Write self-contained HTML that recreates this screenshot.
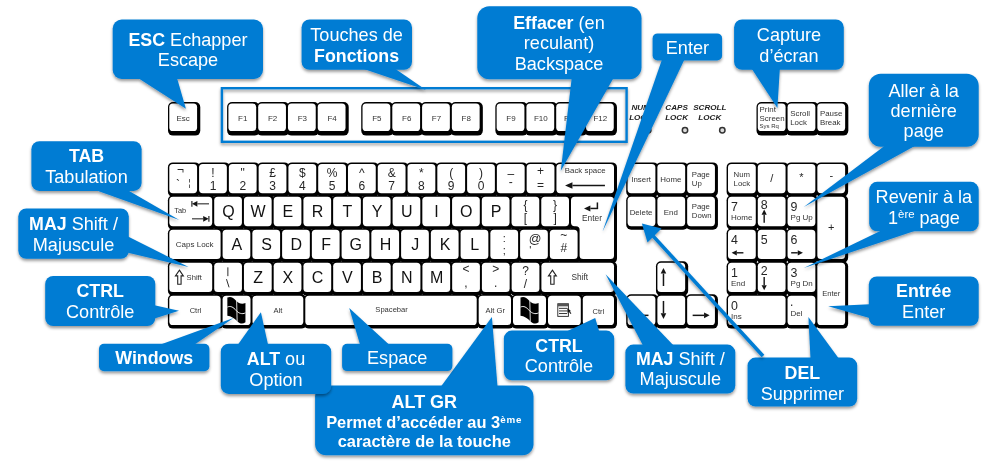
<!DOCTYPE html>
<html lang="fr"><head><meta charset="utf-8"><title>Clavier</title>
<style>html,body{margin:0;padding:0;background:#fff}body{width:986px;height:465px;overflow:hidden}svg{display:block}</style>
</head><body>
<svg width="986" height="465" viewBox="0 0 986 465" font-family="'Liberation Sans', sans-serif">
<defs><filter id="sh" x="-20%" y="-20%" width="140%" height="150%"><feDropShadow dx="0" dy="2.1" stdDeviation="1.8" flood-color="#000" flood-opacity="0.40"/></filter></defs>
<rect width="986" height="465" fill="#fff"/>
<g><rect x="168.00" y="102.10" width="32.28" height="33.50" rx="5" fill="#000" /><rect x="227.10" y="102.10" width="32.28" height="33.50" rx="5" fill="#000" /><rect x="256.88" y="102.10" width="32.28" height="33.50" rx="5" fill="#000" /><rect x="286.66" y="102.10" width="32.28" height="33.50" rx="5" fill="#000" /><rect x="316.44" y="102.10" width="32.28" height="33.50" rx="5" fill="#000" /><rect x="361.22" y="102.10" width="32.28" height="33.50" rx="5" fill="#000" /><rect x="391.00" y="102.10" width="32.28" height="33.50" rx="5" fill="#000" /><rect x="420.78" y="102.10" width="32.28" height="33.50" rx="5" fill="#000" /><rect x="450.56" y="102.10" width="32.28" height="33.50" rx="5" fill="#000" /><rect x="495.34" y="102.10" width="32.28" height="33.50" rx="5" fill="#000" /><rect x="525.12" y="102.10" width="32.28" height="33.50" rx="5" fill="#000" /><rect x="554.90" y="102.10" width="32.28" height="33.50" rx="5" fill="#000" /><rect x="584.68" y="102.10" width="32.28" height="33.50" rx="5" fill="#000" /><rect x="756.50" y="102.10" width="32.28" height="33.50" rx="5" fill="#000" /><rect x="786.28" y="102.10" width="32.28" height="33.50" rx="5" fill="#000" /><rect x="816.06" y="102.10" width="32.28" height="33.50" rx="5" fill="#000" /><rect x="167.90" y="162.40" width="32.18" height="34.40" rx="5" fill="#000" /><rect x="197.68" y="162.40" width="32.18" height="34.40" rx="5" fill="#000" /><rect x="227.46" y="162.40" width="32.18" height="34.40" rx="5" fill="#000" /><rect x="257.24" y="162.40" width="32.18" height="34.40" rx="5" fill="#000" /><rect x="287.02" y="162.40" width="32.18" height="34.40" rx="5" fill="#000" /><rect x="316.80" y="162.40" width="32.18" height="34.40" rx="5" fill="#000" /><rect x="346.58" y="162.40" width="32.18" height="34.40" rx="5" fill="#000" /><rect x="376.36" y="162.40" width="32.18" height="34.40" rx="5" fill="#000" /><rect x="406.14" y="162.40" width="32.18" height="34.40" rx="5" fill="#000" /><rect x="435.92" y="162.40" width="32.18" height="34.40" rx="5" fill="#000" /><rect x="465.70" y="162.40" width="32.18" height="34.40" rx="5" fill="#000" /><rect x="495.48" y="162.40" width="32.18" height="34.40" rx="5" fill="#000" /><rect x="525.26" y="162.40" width="32.18" height="34.40" rx="5" fill="#000" /><rect x="555.04" y="162.40" width="61.96" height="34.40" rx="5" fill="#000" /><rect x="167.90" y="195.35" width="47.30" height="34.40" rx="5" fill="#000" /><rect x="212.80" y="195.35" width="32.13" height="34.40" rx="5" fill="#000" /><rect x="242.53" y="195.35" width="32.13" height="34.40" rx="5" fill="#000" /><rect x="272.27" y="195.35" width="32.13" height="34.40" rx="5" fill="#000" /><rect x="302.00" y="195.35" width="32.13" height="34.40" rx="5" fill="#000" /><rect x="331.73" y="195.35" width="32.13" height="34.40" rx="5" fill="#000" /><rect x="361.47" y="195.35" width="32.13" height="34.40" rx="5" fill="#000" /><rect x="391.20" y="195.35" width="32.13" height="34.40" rx="5" fill="#000" /><rect x="420.93" y="195.35" width="32.13" height="34.40" rx="5" fill="#000" /><rect x="450.67" y="195.35" width="32.13" height="34.40" rx="5" fill="#000" /><rect x="480.40" y="195.35" width="32.13" height="34.40" rx="5" fill="#000" /><rect x="510.13" y="195.35" width="32.13" height="34.40" rx="5" fill="#000" /><rect x="539.87" y="195.35" width="32.13" height="34.40" rx="5" fill="#000" /><path d="M574.10,195.35 H612.50 Q617.00,195.35 617.00,199.85 V258.20 Q617.00,262.70 612.50,262.70 H582.70 Q578.20,262.70 578.20,258.20 V234.25 Q578.20,229.75 573.70,229.75 H574.10 Q569.60,229.75 569.60,225.25 V199.85 Q569.60,195.35 574.10,195.35 Z" fill="#000"/><rect x="167.90" y="228.30" width="55.70" height="34.40" rx="5" fill="#000" /><rect x="221.20" y="228.30" width="32.15" height="34.40" rx="5" fill="#000" /><rect x="250.95" y="228.30" width="32.15" height="34.40" rx="5" fill="#000" /><rect x="280.70" y="228.30" width="32.15" height="34.40" rx="5" fill="#000" /><rect x="310.45" y="228.30" width="32.15" height="34.40" rx="5" fill="#000" /><rect x="340.20" y="228.30" width="32.15" height="34.40" rx="5" fill="#000" /><rect x="369.95" y="228.30" width="32.15" height="34.40" rx="5" fill="#000" /><rect x="399.70" y="228.30" width="32.15" height="34.40" rx="5" fill="#000" /><rect x="429.45" y="228.30" width="32.15" height="34.40" rx="5" fill="#000" /><rect x="459.20" y="228.30" width="32.15" height="34.40" rx="5" fill="#000" /><rect x="488.95" y="228.30" width="32.15" height="34.40" rx="5" fill="#000" /><rect x="518.70" y="228.30" width="32.15" height="34.40" rx="5" fill="#000" /><rect x="548.45" y="228.30" width="32.15" height="34.40" rx="5" fill="#000" /><rect x="167.90" y="261.25" width="47.30" height="34.40" rx="5" fill="#000" /><rect x="212.80" y="261.25" width="32.15" height="34.40" rx="5" fill="#000" /><rect x="242.55" y="261.25" width="32.15" height="34.40" rx="5" fill="#000" /><rect x="272.29" y="261.25" width="32.15" height="34.40" rx="5" fill="#000" /><rect x="302.04" y="261.25" width="32.15" height="34.40" rx="5" fill="#000" /><rect x="331.78" y="261.25" width="32.15" height="34.40" rx="5" fill="#000" /><rect x="361.53" y="261.25" width="32.15" height="34.40" rx="5" fill="#000" /><rect x="391.27" y="261.25" width="32.15" height="34.40" rx="5" fill="#000" /><rect x="421.02" y="261.25" width="32.15" height="34.40" rx="5" fill="#000" /><rect x="450.76" y="261.25" width="32.15" height="34.40" rx="5" fill="#000" /><rect x="480.51" y="261.25" width="32.15" height="34.40" rx="5" fill="#000" /><rect x="510.25" y="261.25" width="32.15" height="34.40" rx="5" fill="#000" /><rect x="540.00" y="261.25" width="77.00" height="34.40" rx="5" fill="#000" /><rect x="167.90" y="294.20" width="55.70" height="34.40" rx="5" fill="#000" /><rect x="221.20" y="294.20" width="32.30" height="34.40" rx="5" fill="#000" /><rect x="251.10" y="294.20" width="55.20" height="34.40" rx="5" fill="#000" /><rect x="303.90" y="294.20" width="175.80" height="34.40" rx="5" fill="#000" /><rect x="477.30" y="294.20" width="36.70" height="34.40" rx="5" fill="#000" /><rect x="511.60" y="294.20" width="37.40" height="34.40" rx="5" fill="#000" /><rect x="546.60" y="294.20" width="37.20" height="34.40" rx="5" fill="#000" /><rect x="581.40" y="294.20" width="35.60" height="34.40" rx="5" fill="#000" /><rect x="626.20" y="162.40" width="32.18" height="34.40" rx="5" fill="#000" /><rect x="655.98" y="162.40" width="32.18" height="34.40" rx="5" fill="#000" /><rect x="685.76" y="162.40" width="32.18" height="34.40" rx="5" fill="#000" /><rect x="626.20" y="195.35" width="32.18" height="34.40" rx="5" fill="#000" /><rect x="655.98" y="195.35" width="32.18" height="34.40" rx="5" fill="#000" /><rect x="685.76" y="195.35" width="32.18" height="34.40" rx="5" fill="#000" /><rect x="655.98" y="261.25" width="32.18" height="34.40" rx="5" fill="#000" /><rect x="626.20" y="294.20" width="32.18" height="34.40" rx="5" fill="#000" /><rect x="655.98" y="294.20" width="32.18" height="34.40" rx="5" fill="#000" /><rect x="685.76" y="294.20" width="32.18" height="34.40" rx="5" fill="#000" /><rect x="726.60" y="162.40" width="32.18" height="34.40" rx="5" fill="#000" /><rect x="756.38" y="162.40" width="32.18" height="34.40" rx="5" fill="#000" /><rect x="786.16" y="162.40" width="32.18" height="34.40" rx="5" fill="#000" /><rect x="815.94" y="162.40" width="32.18" height="34.40" rx="5" fill="#000" /><rect x="726.60" y="195.35" width="32.18" height="34.40" rx="5" fill="#000" /><rect x="756.38" y="195.35" width="32.18" height="34.40" rx="5" fill="#000" /><rect x="786.16" y="195.35" width="32.18" height="34.40" rx="5" fill="#000" /><rect x="815.94" y="195.35" width="32.18" height="67.35" rx="5" fill="#000" /><rect x="726.60" y="228.30" width="32.18" height="34.40" rx="5" fill="#000" /><rect x="756.38" y="228.30" width="32.18" height="34.40" rx="5" fill="#000" /><rect x="786.16" y="228.30" width="32.18" height="34.40" rx="5" fill="#000" /><rect x="726.60" y="261.25" width="32.18" height="34.40" rx="5" fill="#000" /><rect x="756.38" y="261.25" width="32.18" height="34.40" rx="5" fill="#000" /><rect x="786.16" y="261.25" width="32.18" height="34.40" rx="5" fill="#000" /><rect x="815.94" y="261.25" width="32.18" height="67.35" rx="5" fill="#000" /><rect x="726.60" y="294.20" width="61.96" height="34.40" rx="5" fill="#000" /><rect x="786.16" y="294.20" width="32.18" height="34.40" rx="5" fill="#000" /></g>
<g><rect x="169.30" y="103.60" width="27.78" height="27.40" rx="3.6" fill="#fff" /><rect x="228.40" y="103.60" width="27.78" height="27.40" rx="3.6" fill="#fff" /><rect x="258.18" y="103.60" width="27.78" height="27.40" rx="3.6" fill="#fff" /><rect x="287.96" y="103.60" width="27.78" height="27.40" rx="3.6" fill="#fff" /><rect x="317.74" y="103.60" width="27.78" height="27.40" rx="3.6" fill="#fff" /><rect x="362.52" y="103.60" width="27.78" height="27.40" rx="3.6" fill="#fff" /><rect x="392.30" y="103.60" width="27.78" height="27.40" rx="3.6" fill="#fff" /><rect x="422.08" y="103.60" width="27.78" height="27.40" rx="3.6" fill="#fff" /><rect x="451.86" y="103.60" width="27.78" height="27.40" rx="3.6" fill="#fff" /><rect x="496.64" y="103.60" width="27.78" height="27.40" rx="3.6" fill="#fff" /><rect x="526.42" y="103.60" width="27.78" height="27.40" rx="3.6" fill="#fff" /><rect x="556.20" y="103.60" width="27.78" height="27.40" rx="3.6" fill="#fff" /><rect x="585.98" y="103.60" width="27.78" height="27.40" rx="3.6" fill="#fff" /><rect x="757.80" y="103.60" width="27.78" height="27.40" rx="3.6" fill="#fff" /><rect x="787.58" y="103.60" width="27.78" height="27.40" rx="3.6" fill="#fff" /><rect x="817.36" y="103.60" width="27.78" height="27.40" rx="3.6" fill="#fff" /><rect x="169.30" y="163.90" width="27.78" height="29.30" rx="3.6" fill="#fff" /><rect x="199.08" y="163.90" width="27.78" height="29.30" rx="3.6" fill="#fff" /><rect x="228.86" y="163.90" width="27.78" height="29.30" rx="3.6" fill="#fff" /><rect x="258.64" y="163.90" width="27.78" height="29.30" rx="3.6" fill="#fff" /><rect x="288.42" y="163.90" width="27.78" height="29.30" rx="3.6" fill="#fff" /><rect x="318.20" y="163.90" width="27.78" height="29.30" rx="3.6" fill="#fff" /><rect x="347.98" y="163.90" width="27.78" height="29.30" rx="3.6" fill="#fff" /><rect x="377.76" y="163.90" width="27.78" height="29.30" rx="3.6" fill="#fff" /><rect x="407.54" y="163.90" width="27.78" height="29.30" rx="3.6" fill="#fff" /><rect x="437.32" y="163.90" width="27.78" height="29.30" rx="3.6" fill="#fff" /><rect x="467.10" y="163.90" width="27.78" height="29.30" rx="3.6" fill="#fff" /><rect x="496.88" y="163.90" width="27.78" height="29.30" rx="3.6" fill="#fff" /><rect x="526.66" y="163.90" width="27.78" height="29.30" rx="3.6" fill="#fff" /><rect x="556.44" y="163.90" width="57.56" height="29.30" rx="3.6" fill="#fff" /><rect x="169.30" y="196.85" width="42.90" height="29.30" rx="3.6" fill="#fff" /><rect x="214.20" y="196.85" width="27.73" height="29.30" rx="3.6" fill="#fff" /><rect x="243.93" y="196.85" width="27.73" height="29.30" rx="3.6" fill="#fff" /><rect x="273.67" y="196.85" width="27.73" height="29.30" rx="3.6" fill="#fff" /><rect x="303.40" y="196.85" width="27.73" height="29.30" rx="3.6" fill="#fff" /><rect x="333.13" y="196.85" width="27.73" height="29.30" rx="3.6" fill="#fff" /><rect x="362.87" y="196.85" width="27.73" height="29.30" rx="3.6" fill="#fff" /><rect x="392.60" y="196.85" width="27.73" height="29.30" rx="3.6" fill="#fff" /><rect x="422.33" y="196.85" width="27.73" height="29.30" rx="3.6" fill="#fff" /><rect x="452.07" y="196.85" width="27.73" height="29.30" rx="3.6" fill="#fff" /><rect x="481.80" y="196.85" width="27.73" height="29.30" rx="3.6" fill="#fff" /><rect x="511.53" y="196.85" width="27.73" height="29.30" rx="3.6" fill="#fff" /><rect x="541.27" y="196.85" width="27.73" height="29.30" rx="3.6" fill="#fff" /><path d="M574.60,196.85 H610.40 Q614.00,196.85 614.00,200.45 V255.50 Q614.00,259.10 610.40,259.10 H583.20 Q579.60,259.10 579.60,255.50 V229.75 Q579.60,226.15 576.00,226.15 H574.60 Q571.00,226.15 571.00,222.55 V200.45 Q571.00,196.85 574.60,196.85 Z" fill="#fff"/><rect x="169.30" y="229.80" width="51.30" height="29.30" rx="3.6" fill="#fff" /><rect x="222.60" y="229.80" width="27.75" height="29.30" rx="3.6" fill="#fff" /><rect x="252.35" y="229.80" width="27.75" height="29.30" rx="3.6" fill="#fff" /><rect x="282.10" y="229.80" width="27.75" height="29.30" rx="3.6" fill="#fff" /><rect x="311.85" y="229.80" width="27.75" height="29.30" rx="3.6" fill="#fff" /><rect x="341.60" y="229.80" width="27.75" height="29.30" rx="3.6" fill="#fff" /><rect x="371.35" y="229.80" width="27.75" height="29.30" rx="3.6" fill="#fff" /><rect x="401.10" y="229.80" width="27.75" height="29.30" rx="3.6" fill="#fff" /><rect x="430.85" y="229.80" width="27.75" height="29.30" rx="3.6" fill="#fff" /><rect x="460.60" y="229.80" width="27.75" height="29.30" rx="3.6" fill="#fff" /><rect x="490.35" y="229.80" width="27.75" height="29.30" rx="3.6" fill="#fff" /><rect x="520.10" y="229.80" width="27.75" height="29.30" rx="3.6" fill="#fff" /><rect x="549.85" y="229.80" width="27.75" height="29.30" rx="3.6" fill="#fff" /><rect x="169.30" y="262.75" width="42.90" height="29.30" rx="3.6" fill="#fff" /><rect x="214.20" y="262.75" width="27.75" height="29.30" rx="3.6" fill="#fff" /><rect x="243.95" y="262.75" width="27.75" height="29.30" rx="3.6" fill="#fff" /><rect x="273.69" y="262.75" width="27.75" height="29.30" rx="3.6" fill="#fff" /><rect x="303.44" y="262.75" width="27.75" height="29.30" rx="3.6" fill="#fff" /><rect x="333.18" y="262.75" width="27.75" height="29.30" rx="3.6" fill="#fff" /><rect x="362.93" y="262.75" width="27.75" height="29.30" rx="3.6" fill="#fff" /><rect x="392.67" y="262.75" width="27.75" height="29.30" rx="3.6" fill="#fff" /><rect x="422.42" y="262.75" width="27.75" height="29.30" rx="3.6" fill="#fff" /><rect x="452.16" y="262.75" width="27.75" height="29.30" rx="3.6" fill="#fff" /><rect x="481.91" y="262.75" width="27.75" height="29.30" rx="3.6" fill="#fff" /><rect x="511.65" y="262.75" width="27.75" height="29.30" rx="3.6" fill="#fff" /><rect x="541.40" y="262.75" width="72.60" height="29.30" rx="3.6" fill="#fff" /><rect x="169.30" y="295.70" width="51.30" height="29.30" rx="3.6" fill="#fff" /><rect x="222.60" y="295.70" width="27.90" height="29.30" rx="3.6" fill="#fff" /><rect x="252.50" y="295.70" width="50.80" height="29.30" rx="3.6" fill="#fff" /><rect x="305.30" y="295.70" width="171.40" height="29.30" rx="3.6" fill="#fff" /><rect x="478.70" y="295.70" width="32.30" height="29.30" rx="3.6" fill="#fff" /><rect x="513.00" y="295.70" width="33.00" height="29.30" rx="3.6" fill="#fff" /><rect x="548.00" y="295.70" width="32.80" height="29.30" rx="3.6" fill="#fff" /><rect x="582.80" y="295.70" width="31.20" height="29.30" rx="3.6" fill="#fff" /><rect x="627.60" y="163.90" width="27.78" height="29.30" rx="3.6" fill="#fff" /><rect x="657.38" y="163.90" width="27.78" height="29.30" rx="3.6" fill="#fff" /><rect x="687.16" y="163.90" width="27.78" height="29.30" rx="3.6" fill="#fff" /><rect x="627.60" y="196.85" width="27.78" height="29.30" rx="3.6" fill="#fff" /><rect x="657.38" y="196.85" width="27.78" height="29.30" rx="3.6" fill="#fff" /><rect x="687.16" y="196.85" width="27.78" height="29.30" rx="3.6" fill="#fff" /><rect x="657.38" y="262.75" width="27.78" height="29.30" rx="3.6" fill="#fff" /><rect x="627.60" y="295.70" width="27.78" height="29.30" rx="3.6" fill="#fff" /><rect x="657.38" y="295.70" width="27.78" height="29.30" rx="3.6" fill="#fff" /><rect x="687.16" y="295.70" width="27.78" height="29.30" rx="3.6" fill="#fff" /><rect x="728.00" y="163.90" width="27.78" height="29.30" rx="3.6" fill="#fff" /><rect x="757.78" y="163.90" width="27.78" height="29.30" rx="3.6" fill="#fff" /><rect x="787.56" y="163.90" width="27.78" height="29.30" rx="3.6" fill="#fff" /><rect x="817.34" y="163.90" width="27.78" height="29.30" rx="3.6" fill="#fff" /><rect x="728.00" y="196.85" width="27.78" height="29.30" rx="3.6" fill="#fff" /><rect x="757.78" y="196.85" width="27.78" height="29.30" rx="3.6" fill="#fff" /><rect x="787.56" y="196.85" width="27.78" height="29.30" rx="3.6" fill="#fff" /><rect x="817.34" y="196.85" width="27.78" height="62.25" rx="3.6" fill="#fff" /><rect x="728.00" y="229.80" width="27.78" height="29.30" rx="3.6" fill="#fff" /><rect x="757.78" y="229.80" width="27.78" height="29.30" rx="3.6" fill="#fff" /><rect x="787.56" y="229.80" width="27.78" height="29.30" rx="3.6" fill="#fff" /><rect x="728.00" y="262.75" width="27.78" height="29.30" rx="3.6" fill="#fff" /><rect x="757.78" y="262.75" width="27.78" height="29.30" rx="3.6" fill="#fff" /><rect x="787.56" y="262.75" width="27.78" height="29.30" rx="3.6" fill="#fff" /><rect x="817.34" y="262.75" width="27.78" height="62.25" rx="3.6" fill="#fff" /><rect x="728.00" y="295.70" width="57.56" height="29.30" rx="3.6" fill="#fff" /><rect x="787.56" y="295.70" width="27.78" height="29.30" rx="3.6" fill="#fff" /></g>
<g opacity="0.996"><text x="183.19" y="120.60" font-size="8" text-anchor="middle" fill="#333">Esc</text><text x="242.79" y="120.60" font-size="8" text-anchor="middle" fill="#333">F1</text><text x="272.57" y="120.60" font-size="8" text-anchor="middle" fill="#333">F2</text><text x="302.35" y="120.60" font-size="8" text-anchor="middle" fill="#333">F3</text><text x="332.13" y="120.60" font-size="8" text-anchor="middle" fill="#333">F4</text><text x="376.91" y="120.60" font-size="8" text-anchor="middle" fill="#333">F5</text><text x="406.69" y="120.60" font-size="8" text-anchor="middle" fill="#333">F6</text><text x="436.47" y="120.60" font-size="8" text-anchor="middle" fill="#333">F7</text><text x="466.25" y="120.60" font-size="8" text-anchor="middle" fill="#333">F8</text><text x="511.03" y="120.60" font-size="8" text-anchor="middle" fill="#333">F9</text><text x="540.81" y="120.60" font-size="8" text-anchor="middle" fill="#333">F10</text><text x="570.59" y="120.60" font-size="8" text-anchor="middle" fill="#333">F11</text><text x="600.37" y="120.60" font-size="8" text-anchor="middle" fill="#333">F12</text><text x="759.60" y="112.20" font-size="7.9" text-anchor="start" fill="#333">Print</text><text x="759.60" y="121.00" font-size="7.9" text-anchor="start" fill="#333">Screen</text><text x="759.60" y="128.20" font-size="6.0" text-anchor="start" fill="#333">Sys Rq</text><text x="790.18" y="116.00" font-size="7.9" text-anchor="start" fill="#333">Scroll</text><text x="790.18" y="124.80" font-size="7.9" text-anchor="start" fill="#333">Lock</text><text x="819.96" y="116.00" font-size="7.9" text-anchor="start" fill="#333">Pause</text><text x="819.96" y="124.80" font-size="7.9" text-anchor="start" fill="#333">Break</text><text x="640.60" y="110.40" font-size="8.1" text-anchor="middle" fill="#222" font-weight="bold" font-style="italic">NUM</text><text x="640.60" y="119.80" font-size="8.1" text-anchor="middle" fill="#222" font-weight="bold" font-style="italic">LOCK</text><text x="676.60" y="110.40" font-size="8.1" text-anchor="middle" fill="#222" font-weight="bold" font-style="italic">CAPS</text><text x="676.60" y="119.80" font-size="8.1" text-anchor="middle" fill="#222" font-weight="bold" font-style="italic">LOCK</text><text x="709.80" y="110.40" font-size="8.1" text-anchor="middle" fill="#222" font-weight="bold" font-style="italic">SCROLL</text><text x="709.80" y="119.80" font-size="8.1" text-anchor="middle" fill="#222" font-weight="bold" font-style="italic">LOCK</text><circle cx="648.2" cy="130.2" r="2.7" fill="#ddd" stroke="#333" stroke-width="1.5"/><circle cx="685.0" cy="130.2" r="2.7" fill="#ddd" stroke="#333" stroke-width="1.5"/><circle cx="722.3" cy="130.2" r="2.7" fill="#ddd" stroke="#333" stroke-width="1.5"/><text x="180.59" y="173.50" font-size="12" text-anchor="middle" fill="#262626">¬</text><text x="177.99" y="188.90" font-size="12" text-anchor="middle" fill="#262626">`</text><text x="189.59" y="185.70" font-size="9.5" text-anchor="middle" fill="#333">¦</text><text x="212.97" y="176.50" font-size="12" text-anchor="middle" fill="#262626">!</text><text x="212.97" y="189.90" font-size="12" text-anchor="middle" fill="#262626">1</text><text x="242.75" y="176.50" font-size="12" text-anchor="middle" fill="#262626">"</text><text x="242.75" y="189.90" font-size="12" text-anchor="middle" fill="#262626">2</text><text x="272.53" y="176.50" font-size="12" text-anchor="middle" fill="#262626">£</text><text x="272.53" y="189.90" font-size="12" text-anchor="middle" fill="#262626">3</text><text x="302.31" y="176.50" font-size="12" text-anchor="middle" fill="#262626">$</text><text x="302.31" y="189.90" font-size="12" text-anchor="middle" fill="#262626">4</text><text x="332.09" y="176.50" font-size="12" text-anchor="middle" fill="#262626">%</text><text x="332.09" y="189.90" font-size="12" text-anchor="middle" fill="#262626">5</text><text x="361.87" y="176.50" font-size="12" text-anchor="middle" fill="#262626">^</text><text x="361.87" y="189.90" font-size="12" text-anchor="middle" fill="#262626">6</text><text x="391.65" y="176.50" font-size="12" text-anchor="middle" fill="#262626">&amp;</text><text x="391.65" y="189.90" font-size="12" text-anchor="middle" fill="#262626">7</text><text x="421.43" y="176.50" font-size="12" text-anchor="middle" fill="#262626">*</text><text x="421.43" y="189.90" font-size="12" text-anchor="middle" fill="#262626">8</text><text x="451.21" y="176.50" font-size="12" text-anchor="middle" fill="#262626">(</text><text x="451.21" y="189.90" font-size="12" text-anchor="middle" fill="#262626">9</text><text x="480.99" y="176.50" font-size="12" text-anchor="middle" fill="#262626">)</text><text x="480.99" y="189.90" font-size="12" text-anchor="middle" fill="#262626">0</text><text x="510.77" y="177.50" font-size="12" text-anchor="middle" fill="#262626">–</text><text x="510.77" y="186.30" font-size="12" text-anchor="middle" fill="#262626">-</text><text x="540.55" y="175.30" font-size="12" text-anchor="middle" fill="#262626">+</text><text x="540.55" y="188.70" font-size="12" text-anchor="middle" fill="#262626">=</text><text x="564.74" y="173.10" font-size="7.9" text-anchor="start" fill="#333">Back space</text><line x1="604.94" y1="185.50" x2="572.44" y2="185.50" stroke="#151515" stroke-width="1.5"/><polygon points="565.04,185.50 572.44,182.20 572.44,188.80" fill="#151515"/><text x="174.20" y="213.45" font-size="7.4" text-anchor="start" fill="#333">Tab</text><line x1="209.00" y1="203.85" x2="197.40" y2="203.85" stroke="#151515" stroke-width="1.0"/><polygon points="192.00,203.85 197.40,201.05 197.40,206.65" fill="#151515"/><line x1="191.90" y1="201.05" x2="191.90" y2="206.65" stroke="#151515" stroke-width="1.1"/><line x1="192.00" y1="218.85" x2="203.20" y2="218.85" stroke="#151515" stroke-width="1.0"/><polygon points="208.60,218.85 203.20,221.65 203.20,216.05" fill="#151515"/><line x1="208.90" y1="216.05" x2="208.90" y2="221.65" stroke="#151515" stroke-width="1.1"/><text x="228.37" y="216.95" font-size="16" text-anchor="middle" fill="#111">Q</text><text x="258.10" y="216.95" font-size="16" text-anchor="middle" fill="#111">W</text><text x="287.83" y="216.95" font-size="16" text-anchor="middle" fill="#111">E</text><text x="317.57" y="216.95" font-size="16" text-anchor="middle" fill="#111">R</text><text x="347.30" y="216.95" font-size="16" text-anchor="middle" fill="#111">T</text><text x="377.03" y="216.95" font-size="16" text-anchor="middle" fill="#111">Y</text><text x="406.77" y="216.95" font-size="16" text-anchor="middle" fill="#111">U</text><text x="436.50" y="216.95" font-size="16" text-anchor="middle" fill="#111">I</text><text x="466.23" y="216.95" font-size="16" text-anchor="middle" fill="#111">O</text><text x="495.97" y="216.95" font-size="16" text-anchor="middle" fill="#111">P</text><text x="525.40" y="209.05" font-size="12" text-anchor="middle" fill="#262626">{</text><text x="525.40" y="222.25" font-size="12" text-anchor="middle" fill="#262626">[</text><text x="555.13" y="209.05" font-size="12" text-anchor="middle" fill="#262626">}</text><text x="555.13" y="222.25" font-size="12" text-anchor="middle" fill="#262626">]</text><text x="592.00" y="220.65" font-size="8.3" text-anchor="middle" fill="#333">Enter</text><line x1="597.40" y1="202.45" x2="597.40" y2="208.65" stroke="#151515" stroke-width="1.5"/><line x1="598.10" y1="208.45" x2="590.40" y2="208.45" stroke="#151515" stroke-width="1.5"/><polygon points="584.00,208.45 590.40,205.45 590.40,211.45" fill="#151515"/><text x="175.80" y="246.60" font-size="8.0" text-anchor="start" fill="#333">Caps Lock</text><text x="236.78" y="249.90" font-size="16" text-anchor="middle" fill="#111">A</text><text x="266.53" y="249.90" font-size="16" text-anchor="middle" fill="#111">S</text><text x="296.28" y="249.90" font-size="16" text-anchor="middle" fill="#111">D</text><text x="326.03" y="249.90" font-size="16" text-anchor="middle" fill="#111">F</text><text x="355.78" y="249.90" font-size="16" text-anchor="middle" fill="#111">G</text><text x="385.53" y="249.90" font-size="16" text-anchor="middle" fill="#111">H</text><text x="415.28" y="249.90" font-size="16" text-anchor="middle" fill="#111">J</text><text x="445.03" y="249.90" font-size="16" text-anchor="middle" fill="#111">K</text><text x="474.78" y="249.90" font-size="16" text-anchor="middle" fill="#111">L</text><text x="504.23" y="242.40" font-size="11" text-anchor="middle" fill="#262626">:</text><text x="504.23" y="254.40" font-size="11" text-anchor="middle" fill="#262626">;</text><text x="534.98" y="242.60" font-size="12.5" text-anchor="middle" fill="#262626">@</text><text x="530.18" y="254.00" font-size="11" text-anchor="middle" fill="#262626">'</text><text x="563.73" y="239.40" font-size="12" text-anchor="middle" fill="#262626">~</text><text x="563.73" y="252.40" font-size="12" text-anchor="middle" fill="#262626">#</text><text x="186.60" y="279.75" font-size="7.6" text-anchor="start" fill="#333">Shift</text><polygon points="179.40,270.11 183.36,275.87 181.08,275.87 181.08,284.27 177.72,284.27 177.72,275.87 175.44,275.87" fill="#fff" stroke="#222" stroke-width="1.1" stroke-linejoin="miter"/><line x1="227.87" y1="267.35" x2="227.87" y2="276.15" stroke="#151515" stroke-width="0.9"/><line x1="226.47" y1="279.15" x2="229.07" y2="287.35" stroke="#151515" stroke-width="0.9"/><text x="258.12" y="282.85" font-size="16" text-anchor="middle" fill="#111">Z</text><text x="287.86" y="282.85" font-size="16" text-anchor="middle" fill="#111">X</text><text x="317.61" y="282.85" font-size="16" text-anchor="middle" fill="#111">C</text><text x="347.35" y="282.85" font-size="16" text-anchor="middle" fill="#111">V</text><text x="377.10" y="282.85" font-size="16" text-anchor="middle" fill="#111">B</text><text x="406.85" y="282.85" font-size="16" text-anchor="middle" fill="#111">N</text><text x="436.59" y="282.85" font-size="16" text-anchor="middle" fill="#111">M</text><text x="466.04" y="272.95" font-size="12" text-anchor="middle" fill="#262626">&lt;</text><text x="466.04" y="287.15" font-size="12" text-anchor="middle" fill="#262626">,</text><text x="495.78" y="272.95" font-size="12" text-anchor="middle" fill="#262626">&gt;</text><text x="495.78" y="287.15" font-size="12" text-anchor="middle" fill="#262626">.</text><text x="525.53" y="275.15" font-size="12" text-anchor="middle" fill="#262626">?</text><text x="525.53" y="288.15" font-size="12" text-anchor="middle" fill="#262626">/</text><text x="571.50" y="280.05" font-size="8.3" text-anchor="start" fill="#333">Shift</text><polygon points="552.40,270.11 556.36,275.87 554.08,275.87 554.08,284.27 550.72,284.27 550.72,275.87 548.44,275.87" fill="#fff" stroke="#222" stroke-width="1.1" stroke-linejoin="miter"/><text x="195.55" y="312.95" font-size="7.6" text-anchor="middle" fill="#333">Ctrl</text><g transform="translate(236.55,310.35)"><path d="M-9.2,-12.8 C-6,-14.3 -3.4,-13 -0.2,-9.3 C2,-7 5.5,-5.6 8.9,-7.4 L8.9,12 C5.5,14.3 3,13 0.7,10.85 C-2.5,7.8 -5.5,5.8 -9.2,5.5 Z" fill="#000"/><path d="M-9.2,-3.3 C-6,-4.7 -3.4,-3.4 -0.2,0.35 C2,2.8 5.5,4.3 8.9,2.5" stroke="#fff" stroke-width="0.95" fill="none"/><path d="M0.1,-9.6 L0.6,11.2" stroke="#fff" stroke-width="0.85" fill="none"/></g><text x="277.90" y="312.95" font-size="7.6" text-anchor="middle" fill="#333">Alt</text><text x="391.60" y="311.75" font-size="7.6" text-anchor="middle" fill="#333">Spacebar</text><text x="495.25" y="312.95" font-size="7.6" text-anchor="middle" fill="#333">Alt Gr</text><g transform="translate(529.70,310.35)"><path d="M-9.2,-12.8 C-6,-14.3 -3.4,-13 -0.2,-9.3 C2,-7 5.5,-5.6 8.9,-7.4 L8.9,12 C5.5,14.3 3,13 0.7,10.85 C-2.5,7.8 -5.5,5.8 -9.2,5.5 Z" fill="#000"/><path d="M-9.2,-3.3 C-6,-4.7 -3.4,-3.4 -0.2,0.35 C2,2.8 5.5,4.3 8.9,2.5" stroke="#fff" stroke-width="0.95" fill="none"/><path d="M0.1,-9.6 L0.6,11.2" stroke="#fff" stroke-width="0.85" fill="none"/></g><rect x="557.80" y="303.75" width="10.6" height="12.6" fill="#fff" stroke="#222" stroke-width="0.9"/><rect x="557.80" y="303.75" width="10.6" height="2.6" fill="#555"/><line x1="559.00" y1="308.35" x2="567.20" y2="308.35" stroke="#333" stroke-width="1.0"/><line x1="559.00" y1="310.95" x2="567.20" y2="310.95" stroke="#333" stroke-width="1.0"/><line x1="559.00" y1="313.55" x2="567.20" y2="313.55" stroke="#333" stroke-width="1.0"/><polygon points="567.40,307.95 571.20,311.15 569.60,311.15 571.40,313.35 570.60,313.95 568.80,311.75 567.40,312.75" fill="#111"/><text x="598.40" y="313.95" font-size="7.5" text-anchor="middle" fill="#333">Ctrl</text><text x="641.09" y="181.55" font-size="7.9" text-anchor="middle" fill="#333">Insert</text><text x="670.87" y="181.55" font-size="7.9" text-anchor="middle" fill="#333">Home</text><text x="691.76" y="176.50" font-size="7.8" text-anchor="start" fill="#333">Page</text><text x="691.76" y="185.50" font-size="7.8" text-anchor="start" fill="#333">Up</text><text x="641.09" y="214.50" font-size="7.9" text-anchor="middle" fill="#333">Delete</text><text x="670.87" y="214.50" font-size="7.9" text-anchor="middle" fill="#333">End</text><text x="691.76" y="209.45" font-size="7.8" text-anchor="start" fill="#333">Page</text><text x="691.76" y="218.45" font-size="7.8" text-anchor="start" fill="#333">Down</text><line x1="663.47" y1="286.00" x2="663.47" y2="273.60" stroke="#151515" stroke-width="1.5"/><polygon points="663.47,268.00 666.27,273.60 660.67,273.60" fill="#151515"/><line x1="648.49" y1="315.35" x2="637.09" y2="315.35" stroke="#151515" stroke-width="1.5"/><polygon points="631.49,315.35 637.09,312.55 637.09,318.15" fill="#151515"/><line x1="663.47" y1="300.95" x2="663.47" y2="313.35" stroke="#151515" stroke-width="1.5"/><polygon points="663.47,318.95 660.67,313.35 666.27,313.35" fill="#151515"/><line x1="692.65" y1="315.35" x2="704.05" y2="315.35" stroke="#151515" stroke-width="1.5"/><polygon points="709.65,315.35 704.05,318.15 704.05,312.55" fill="#151515"/><text x="733.60" y="176.90" font-size="7.8" text-anchor="start" fill="#333">Num</text><text x="733.60" y="185.90" font-size="7.8" text-anchor="start" fill="#333">Lock</text><text x="771.67" y="181.95" font-size="11" text-anchor="middle" fill="#262626">/</text><text x="801.45" y="181.35" font-size="11" text-anchor="middle" fill="#262626">*</text><text x="831.23" y="178.95" font-size="11" text-anchor="middle" fill="#262626">-</text><text x="731.00" y="211.05" font-size="12.4" text-anchor="start" fill="#262626">7</text><text x="731.00" y="220.45" font-size="8" text-anchor="start" fill="#333">Home</text><text x="760.78" y="208.65" font-size="12.4" text-anchor="start" fill="#262626">8</text><line x1="764.18" y1="222.65" x2="764.18" y2="214.65" stroke="#151515" stroke-width="1.4"/><polygon points="764.18,209.45 766.78,214.65 761.58,214.65" fill="#151515"/><text x="790.56" y="211.05" font-size="12.4" text-anchor="start" fill="#262626">9</text><text x="790.56" y="220.45" font-size="8" text-anchor="start" fill="#333">Pg Up</text><text x="831.23" y="230.98" font-size="11" text-anchor="middle" fill="#262626">+</text><text x="731.00" y="244.40" font-size="12.4" text-anchor="start" fill="#262626">4</text><line x1="743.40" y1="252.80" x2="736.80" y2="252.80" stroke="#151515" stroke-width="1.4"/><polygon points="731.60,252.80 736.80,250.20 736.80,255.40" fill="#151515"/><text x="760.78" y="244.00" font-size="12.4" text-anchor="start" fill="#262626">5</text><text x="790.56" y="244.20" font-size="12.4" text-anchor="start" fill="#262626">6</text><line x1="791.16" y1="252.80" x2="797.76" y2="252.80" stroke="#151515" stroke-width="1.4"/><polygon points="802.96,252.80 797.76,255.40 797.76,250.20" fill="#151515"/><text x="731.00" y="276.95" font-size="12.4" text-anchor="start" fill="#262626">1</text><text x="731.00" y="286.35" font-size="8" text-anchor="start" fill="#333">End</text><text x="760.78" y="275.15" font-size="12.4" text-anchor="start" fill="#262626">2</text><line x1="764.18" y1="276.95" x2="764.18" y2="285.15" stroke="#151515" stroke-width="1.4"/><polygon points="764.18,290.35 761.58,285.15 766.78,285.15" fill="#151515"/><text x="790.56" y="276.75" font-size="12.4" text-anchor="start" fill="#262626">3</text><text x="790.56" y="286.35" font-size="8" text-anchor="start" fill="#333">Pg Dn</text><text x="831.23" y="296.48" font-size="7.6" text-anchor="middle" fill="#333">Enter</text><text x="731.00" y="310.10" font-size="12.4" text-anchor="start" fill="#262626">0</text><text x="731.00" y="319.30" font-size="8" text-anchor="start" fill="#333">Ins</text><text x="789.96" y="306.10" font-size="12" text-anchor="start" fill="#262626">.</text><text x="790.56" y="315.50" font-size="8" text-anchor="start" fill="#333">Del</text></g>
<g filter="url(#sh)"><rect x="221.9" y="88.2" width="404.7" height="53.6" fill="none" stroke="#007CD3" stroke-width="2.4"/></g>
<g fill="#007CD3" filter="url(#sh)"><rect x="112.7" y="19.5" width="150.30" height="59.50" rx="9"/><polygon points="138,78 185.9,108.7 177,78"/></g><g fill="#007CD3" filter="url(#sh)"><rect x="301.6" y="19.5" width="110.40" height="50.30" rx="8"/><polygon points="363.8,69 426,90 395.5,69"/></g><g fill="#007CD3" filter="url(#sh)"><rect x="477.3" y="6.3" width="164.20" height="72.90" rx="12"/><polygon points="571.7,78 560.8,170.7 613.5,78"/></g><g fill="#007CD3" filter="url(#sh)"><rect x="652.6" y="33.4" width="69.50" height="27.10" rx="5"/><polygon points="661.8,60 602.6,231.6 684.2,60"/></g><g fill="#007CD3" filter="url(#sh)"><rect x="734.1" y="19.5" width="109.70" height="50.30" rx="8"/><polygon points="751.9,69 777.4,108.0 779.8,69"/></g><g fill="#007CD3" filter="url(#sh)"><rect x="868.8" y="73.8" width="109.90" height="73.00" rx="12"/><polygon points="884.4,146 803.8,207 914.8,146"/></g><g fill="#007CD3" filter="url(#sh)"><rect x="869.2" y="181.8" width="109.50" height="49.50" rx="8"/><polygon points="881.3,230.5 803.8,268 916,230.5"/></g><g fill="#007CD3" filter="url(#sh)"><rect x="868.8" y="276.5" width="109.90" height="49.30" rx="8"/><polygon points="869.5,304.3 828.2,306.3 869.5,318.1"/></g><g fill="#007CD3" filter="url(#sh)"><rect x="31.4" y="141.2" width="110.20" height="49.70" rx="8"/><polygon points="95.3,190 179.3,220.1 127.4,190"/></g><g fill="#007CD3" filter="url(#sh)"><rect x="18.3" y="208.5" width="110.50" height="50.30" rx="8"/><polygon points="128,236.5 188.6,266.9 128,252.7"/></g><g fill="#007CD3" filter="url(#sh)"><rect x="45.2" y="276" width="110.10" height="50.00" rx="8"/><polygon points="154.5,305.2 179,310.8 154.5,318.4"/></g><g fill="#007CD3" filter="url(#sh)"><rect x="99" y="343.8" width="110.40" height="27.40" rx="5"/><polygon points="160.6,344.5 233.5,317.9 194.6,344.5"/></g><g fill="#007CD3" filter="url(#sh)"><rect x="315.1" y="385.5" width="218.40" height="69.70" rx="11"/><polygon points="441,386.5 491.9,317 497.5,386.5"/></g><g fill="#007CD3" filter="url(#sh)"><rect x="220.8" y="343.7" width="110.40" height="50.20" rx="8"/><polygon points="238,344.5 260.9,312.2 268,344.5"/></g><g fill="#007CD3" filter="url(#sh)"><rect x="342.1" y="343.7" width="110.30" height="27.40" rx="5"/><polygon points="360,344.5 349.2,308.1 389,344.5"/></g><g fill="#007CD3" filter="url(#sh)"><rect x="503.9" y="330.6" width="110.30" height="49.70" rx="8"/><polygon points="566.5,331.4 595.2,318.1 599.2,331.4"/></g><g fill="#007CD3" filter="url(#sh)"><rect x="625.4" y="344.6" width="109.90" height="48.90" rx="8"/><polygon points="643,345.4 605.6,274.3 673.6,345.4"/></g><g fill="#007CD3" filter="url(#sh)"><rect x="747.6" y="357.6" width="109.60" height="48.90" rx="8"/><polygon points="810.5,358.4 808.4,317.0 838.8,358.4"/></g><g filter="url(#sh)"><line x1="763" y1="356" x2="650" y2="232.6" stroke="#007CD3" stroke-width="3.6"/><polygon points="641.9,223.6 661.5,228.5 647.5,242.5" fill="#007CD3"/></g>
<g opacity="0.999"><text x="188.00" y="45.70" font-size="18.1" text-anchor="middle" fill="#fff" xml:space="preserve"><tspan font-weight="bold" font-size="17.8">ESC</tspan> Echapper</text><text x="188.00" y="66.10" font-size="18.1" text-anchor="middle" fill="#fff" xml:space="preserve">Escape</text><text x="356.60" y="41.10" font-size="18.1" text-anchor="middle" fill="#fff" xml:space="preserve">Touches de</text><text x="356.60" y="62.20" font-size="18.1" text-anchor="middle" fill="#fff" xml:space="preserve"><tspan font-weight="bold" font-size="17.8">Fonctions</tspan></text><text x="559.00" y="28.50" font-size="18.1" text-anchor="middle" fill="#fff" xml:space="preserve"><tspan font-weight="bold" font-size="17.8">Effacer</tspan> (en</text><text x="559.00" y="49.30" font-size="18.1" text-anchor="middle" fill="#fff" xml:space="preserve">reculant)</text><text x="559.00" y="69.70" font-size="18.1" text-anchor="middle" fill="#fff" xml:space="preserve">Backspace</text><text x="687.40" y="53.70" font-size="18.1" text-anchor="middle" fill="#fff" xml:space="preserve">Enter</text><text x="789.00" y="41.10" font-size="18.1" text-anchor="middle" fill="#fff" xml:space="preserve">Capture</text><text x="789.00" y="62.20" font-size="18.1" text-anchor="middle" fill="#fff" xml:space="preserve">d’écran</text><text x="923.70" y="96.60" font-size="18.1" text-anchor="middle" fill="#fff" xml:space="preserve">Aller à la</text><text x="923.70" y="116.90" font-size="18.1" text-anchor="middle" fill="#fff" xml:space="preserve">dernière</text><text x="923.70" y="137.20" font-size="18.1" text-anchor="middle" fill="#fff" xml:space="preserve">page</text><text x="923.90" y="203.00" font-size="18.1" text-anchor="middle" fill="#fff" xml:space="preserve">Revenir à la</text><text x="923.9" y="224.3" font-size="18.1" text-anchor="middle" fill="#fff" xml:space="preserve">1<tspan font-size="11.4" dy="-6.2">ère</tspan><tspan dy="6.2"> page</tspan></text><text x="923.70" y="296.90" font-size="18.1" text-anchor="middle" fill="#fff" xml:space="preserve"><tspan font-weight="bold" font-size="17.8">Entrée</tspan></text><text x="923.70" y="318.00" font-size="18.1" text-anchor="middle" fill="#fff" xml:space="preserve">Enter</text><text x="86.50" y="161.90" font-size="18.1" text-anchor="middle" fill="#fff" xml:space="preserve"><tspan font-weight="bold" font-size="17.8">TAB</tspan></text><text x="86.50" y="183.20" font-size="18.1" text-anchor="middle" fill="#fff" xml:space="preserve">Tabulation</text><text x="73.50" y="229.90" font-size="18.1" text-anchor="middle" fill="#fff" xml:space="preserve"><tspan font-weight="bold" font-size="17.8">MAJ</tspan> Shift /</text><text x="73.50" y="250.80" font-size="18.1" text-anchor="middle" fill="#fff" xml:space="preserve">Majuscule</text><text x="100.20" y="297.30" font-size="18.1" text-anchor="middle" fill="#fff" xml:space="preserve"><tspan font-weight="bold" font-size="17.8">CTRL</tspan></text><text x="100.20" y="318.10" font-size="18.1" text-anchor="middle" fill="#fff" xml:space="preserve">Contrôle</text><text x="154.20" y="364.10" font-size="18.1" text-anchor="middle" fill="#fff" xml:space="preserve"><tspan font-weight="bold" font-size="17.8">Windows</tspan></text><text x="276.00" y="365.20" font-size="18.1" text-anchor="middle" fill="#fff" xml:space="preserve"><tspan font-weight="bold" font-size="17.8">ALT</tspan> ou</text><text x="276.00" y="386.00" font-size="18.1" text-anchor="middle" fill="#fff" xml:space="preserve">Option</text><text x="397.20" y="364.10" font-size="18.1" text-anchor="middle" fill="#fff" xml:space="preserve">Espace</text><text x="424.30" y="408.00" font-size="18.3" text-anchor="middle" fill="#fff" xml:space="preserve"><tspan font-weight="bold" font-size="18">ALT GR</tspan></text><text x="424.3" y="428.2" font-size="16.4" font-weight="bold" text-anchor="middle" fill="#fff" xml:space="preserve">Permet d’accéder au 3<tspan font-size="9.8" dy="-5.2" letter-spacing="0.9">ème</tspan></text><text x="424.3" y="446.9" font-size="16.4" font-weight="bold" text-anchor="middle" fill="#fff" xml:space="preserve">caractère de la touche</text><text x="559.00" y="351.50" font-size="18.1" text-anchor="middle" fill="#fff" xml:space="preserve"><tspan font-weight="bold" font-size="17.8">CTRL</tspan></text><text x="559.00" y="372.10" font-size="18.1" text-anchor="middle" fill="#fff" xml:space="preserve">Contrôle</text><text x="680.30" y="365.00" font-size="18.1" text-anchor="middle" fill="#fff" xml:space="preserve"><tspan font-weight="bold" font-size="17.8">MAJ</tspan> Shift /</text><text x="680.30" y="385.30" font-size="18.1" text-anchor="middle" fill="#fff" xml:space="preserve">Majuscule</text><text x="802.40" y="378.90" font-size="18.1" text-anchor="middle" fill="#fff" xml:space="preserve"><tspan font-weight="bold" font-size="17.8">DEL</tspan></text><text x="802.40" y="399.70" font-size="18.1" text-anchor="middle" fill="#fff" xml:space="preserve">Supprimer</text></g>
</svg>
</body></html>
